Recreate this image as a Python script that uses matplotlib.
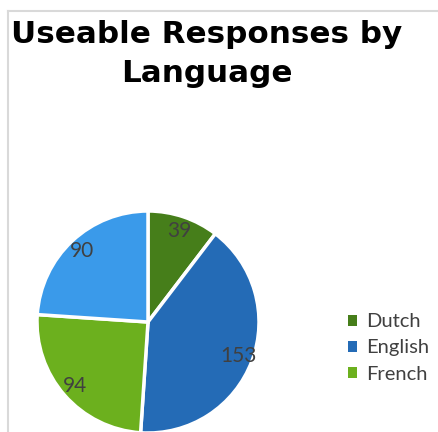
import matplotlib.pyplot as plt
from matplotlib.patches import Patch
from matplotlib.lines import Line2D

categories = ['Dutch', 'English', 'French', 'Other']
responses = [39, 153, 94, 90]
colors = ['#467E1A', '#246BB6', '#6CB01E', '#3A9AEA']

W, H = 439, 432
fig = plt.figure(figsize=(W / 100, H / 100), dpi=100)

# pie: center ~(148, 322) px, radius ~111 px
r = 111
cx, cy = 148, 322
ax = fig.add_axes([(cx - r) / W, 1 - (cy + r) / H, 2 * r / W, 2 * r / H])
wedges, texts = ax.pie(responses,
                       labels=[str(v) for v in responses],
                       colors=colors,
                       startangle=90,
                       counterclock=False,
                       labeldistance=0.87,
                       wedgeprops=dict(edgecolor='white', linewidth=2.5),
                       textprops=dict(family='Lato', size=15, color='#404040',
                                      ha='center', va='center'))
for w in wedges:
    w.set_clip_on(False)
ax.set_xlim(-1, 1)
ax.set_ylim(-1, 1)
ax.set_aspect('equal')
ax.axis('off')

# title
fig.text(207 / W, 1 - 43 / H, 'Useable Responses by', ha='center', va='baseline',
         family='DejaVu Sans', weight='bold', size=22.3)
fig.text(207 / W, 1 - 82 / H, 'Language', ha='center', va='baseline',
         family='DejaVu Sans', weight='bold', size=22.3)

# legend (only three entries fit)
handles = [Patch(facecolor=c) for c in colors[:3]]
fig.legend(handles, categories[:3],
           loc='center left',
           bbox_to_anchor=(348 / W, 1 - 348 / H),
           frameon=False,
           borderpad=0,
           borderaxespad=0,
           handlelength=0.45,
           handleheight=0.45,
           handletextpad=0.45,
           labelspacing=0.45,
           prop=dict(family='Lato', size=14.5),
           labelcolor='#404040')

# chart area border
border = dict(color='#D9D9D9', linewidth=1.5)
fig.add_artist(Line2D([8 / W, 1], [1 - 11 / H, 1 - 11 / H], transform=fig.transFigure, **border))
fig.add_artist(Line2D([8 / W, 8 / W], [0, 1 - 11 / H], transform=fig.transFigure, **border))

fig.savefig('out.png', dpi=100)
